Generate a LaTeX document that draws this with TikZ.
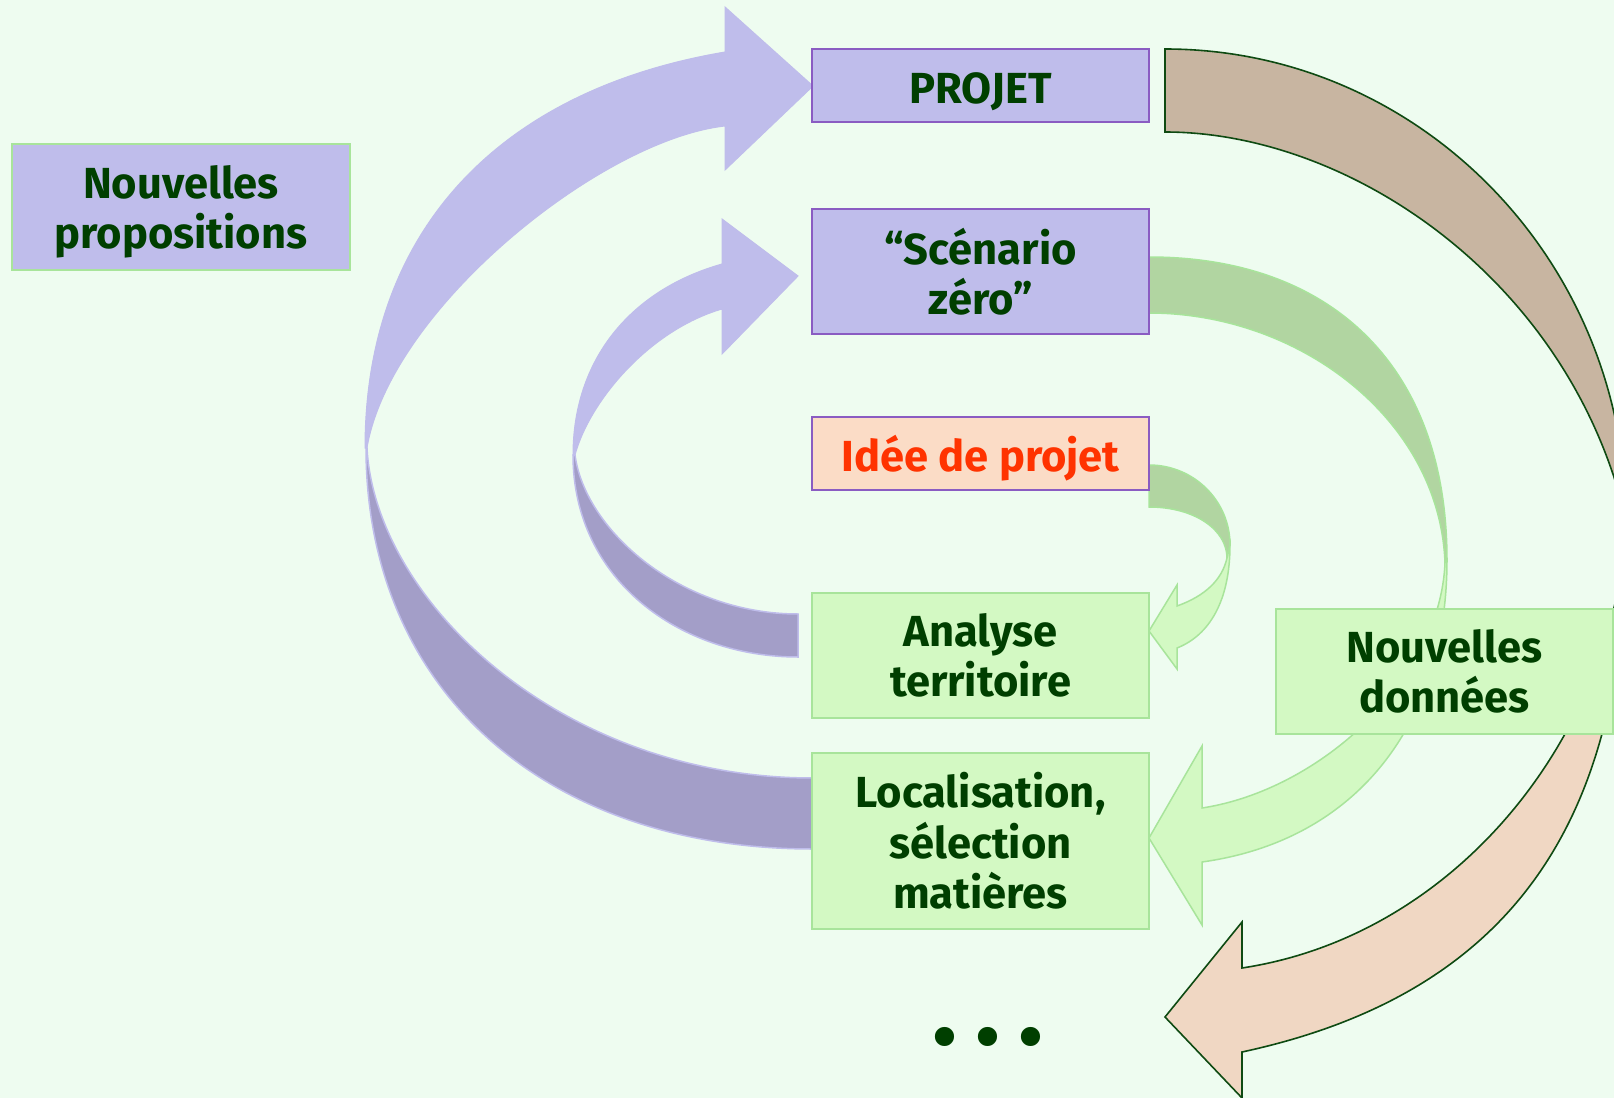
\documentclass[tikz,border=0pt]{standalone}
\usepackage{fontspec}
\setmainfont{Fira Sans}
\newfontfamily\dotfont{DejaVu Sans}
\definecolor{bg}{HTML}{EEFCF0}
\definecolor{lavL}{HTML}{BFBDEB}
\definecolor{lavD}{HTML}{A39EC8}
\definecolor{grnD}{HTML}{B1D5A1}
\definecolor{grnL}{HTML}{D3F9C3}
\definecolor{grnLine}{HTML}{A8E49B}
\definecolor{tanC}{HTML}{C8B5A1}
\definecolor{peachC}{HTML}{F0D7C3}
\definecolor{eline}{HTML}{0E4A12}
\definecolor{purpleB}{HTML}{8A5CC2}
\definecolor{peachBox}{HTML}{FBDCC6}
\definecolor{txtgreen}{HTML}{003F00}
\definecolor{txtred}{HTML}{FF3300}
\newcommand\boxfont{\fontsize{21.75pt}{25.25pt}\selectfont\bfseries}
\tikzset{
  box/.style={rectangle, inner sep=0pt, align=center, font=\boxfont, text=txtgreen, line width=1pt, minimum width=168.5pt},
  oneline/.style={text height=18pt, text depth=0pt},
  lavbox/.style={box, fill=lavL, draw=purpleB},
  npbox/.style={box, fill=lavL, draw=grnLine},
  ideebox/.style={box, fill=peachBox, draw=purpleB, text=txtred},
  grnbox/.style={box, fill=grnL, draw=grnLine},
  lavback/.style={fill=lavD, draw=lavL, line width=0.75pt},
  lavfront/.style={fill=lavL, draw=lavL, line width=0.5pt},
  grnback/.style={fill=grnD, draw=grnLine, line width=0.75pt},
  grnfront/.style={fill=grnL, draw=grnLine, line width=0.75pt},
  tanback/.style={fill=tanC, draw=eline, line width=0.8pt, line join=miter},
  peachfront/.style={fill=peachC, draw=eline, line width=0.8pt, line join=miter}
}
\begin{document}
\begin{tikzpicture}[x=0.5pt,y=-0.5pt]
\useasboundingbox (0,0) rectangle (1614,1098);
\fill[bg] (0,0) rectangle (1614,1098);
\begin{scope}
\clip (0,0) rectangle (1614,1098);
% Arrow A : Localisation -> PROJET
\path[lavback] (366,448) .. controls (366,689) and (544,849) .. (813,849) -- (813,778)
  .. controls (560,778) and (375,600) .. (367,448) -- cycle;
\path[lavfront] (365,448) .. controls (365,230) and (500,90) .. (725,52) -- (725,7) -- (813,86)
  -- (725,170) -- (725,126) .. controls (600,140) and (390,310) .. (367,448) -- cycle;
% Arrow B : Analyse -> Scenario
\path[lavback] (573,455) .. controls (573,580) and (680,657) .. (798,657) -- (798,614)
  .. controls (680,614) and (585,530) .. (575,455) -- cycle;
\path[lavfront] (573,455) .. controls (573,360) and (630,290) .. (722,264) -- (722,219) -- (798,276)
  -- (722,354) -- (722,309) .. controls (650,330) and (590,400) .. (575,455) -- cycle;
% Arrow C : Scenario -> Localisation
\path[grnback] (1149,257) .. controls (1330,257) and (1447,365) .. (1447,560) -- (1445,563)
  .. controls (1440,420) and (1300,313) .. (1149,313) -- cycle;
\path[grnfront] (1447,560) .. controls (1447,720) and (1360,840) .. (1202,862) -- (1202,925) -- (1149,838)
  -- (1202,746) -- (1202,808) .. controls (1320,790) and (1440,680) .. (1445,563) -- cycle;
% Arrow D : Idee -> Analyse
\path[grnback] (1149,465) .. controls (1194,465) and (1230,501) .. (1230,545) -- (1227,558)
  .. controls (1227,530) and (1195,507) .. (1149,507) -- cycle;
\path[grnfront] (1230,545) .. controls (1230,600) and (1210,635) .. (1177,648) -- (1177,669) -- (1149,631)
  -- (1177,585) -- (1177,606) .. controls (1205,596) and (1222,580) .. (1227,558) -- cycle;
% Arrow E : PROJET -> ...
\path[tanback] (1165,49) .. controls (1419,49) and (1626,260) .. (1626,520)
  .. controls (1570,280) and (1350,132) .. (1165,132) -- cycle;
\path[peachfront] (1626,520) .. controls (1628,800) and (1530,990) .. (1242,1052) -- (1242,1098) -- (1165,1017)
  -- (1242,922) -- (1242,968) .. controls (1460,935) and (1618,730) .. (1626,520) -- cycle;
\end{scope}
% Boxes
\node[npbox, minimum width=169pt, minimum height=63pt, text depth=0pt] (np) at (181,207) {Nouvelles\\propositions};
\node[lavbox, oneline, minimum height=36.5pt] (projet) at (980.5,85.5) {PROJET};
\node[lavbox, minimum height=62.5pt] (scen) at (980.5,271.5) {“Scénario\\zéro”};
\node[ideebox, oneline, minimum height=36.5pt] (idee) at (980.5,453.5) {Idée de projet};
\node[grnbox, minimum height=62.5pt] (analyse) at (980.5,655.5) {Analyse\\territoire};
\node[grnbox, minimum height=88pt] (loc) at (980.5,841) {Localisation,\\sélection\\matières};
\node[grnbox, minimum height=62.5pt] (nd) at (1444.5,671.5) {Nouvelles\\données};
\node[text=txtgreen, inner sep=0pt, font=\dotfont\fontsize{33pt}{33pt}\selectfont] (dots) at (988,1044) {•\kern2pt•\kern2pt•};
\end{tikzpicture}
\end{document}
